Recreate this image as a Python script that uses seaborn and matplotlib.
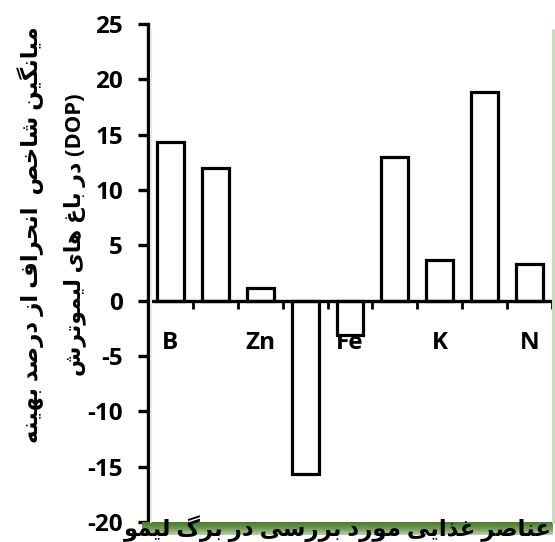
import re
import numpy as np
import pandas as pd
import matplotlib
matplotlib.use("Agg")
import matplotlib.pyplot as plt
import seaborn as sns

# data (DOP index per nutrient)
tick_labels = ['B', '', 'Zn', '', 'Fe', '', 'K', '', 'N']
dop_values = [14.3, 12.0, 1.1, -15.7, -3.1, 13.0, 3.7, 18.9, 3.3]
y_ticks = [-20, -15, -10, -5, 0, 5, 10, 15, 20, 25]

ylabel_line1 = 'میانگین شاخص  انحراف از درصد بهینه'
ylabel_line2 = '(DOP) در باغ های لیموترش'
xlabel_text = 'عناصر غذایی مورد بررسی در برگ لیمو'

# minimal arabic-script shaping, matplotlib has no shaping/bidi of its own
FORMS = {
    'ا': (0xFE8D, 0xFE8E),
    'ب': (0xFE8F, 0xFE90, 0xFE91, 0xFE92),
    'ت': (0xFE95, 0xFE96, 0xFE97, 0xFE98),
    'ح': (0xFEA1, 0xFEA2, 0xFEA3, 0xFEA4),
    'خ': (0xFEA5, 0xFEA6, 0xFEA7, 0xFEA8),
    'د': (0xFEA9, 0xFEAA),
    'ذ': (0xFEAB, 0xFEAC),
    'ر': (0xFEAD, 0xFEAE),
    'ز': (0xFEAF, 0xFEB0),
    'س': (0xFEB1, 0xFEB2, 0xFEB3, 0xFEB4),
    'ش': (0xFEB5, 0xFEB6, 0xFEB7, 0xFEB8),
    'ص': (0xFEB9, 0xFEBA, 0xFEBB, 0xFEBC),
    'ع': (0xFEC9, 0xFECA, 0xFECB, 0xFECC),
    'غ': (0xFECD, 0xFECE, 0xFECF, 0xFED0),
    'ف': (0xFED1, 0xFED2, 0xFED3, 0xFED4),
    'ل': (0xFEDD, 0xFEDE, 0xFEDF, 0xFEE0),
    'م': (0xFEE1, 0xFEE2, 0xFEE3, 0xFEE4),
    'ن': (0xFEE5, 0xFEE6, 0xFEE7, 0xFEE8),
    'ه': (0xFEE9, 0xFEEA, 0xFEEB, 0xFEEC),
    'و': (0xFEED, 0xFEEE),
    '\u06cc': (0xFBFC, 0xFBFD, 0xFBFE, 0xFBFF),
    'گ': (0xFB92, 0xFB93, 0xFB94, 0xFB95),
}


def shape(text):
    text = text.replace('\u064a', '\u06cc')
    out = []
    for i, ch in enumerate(text):
        f = FORMS.get(ch)
        if f is None:
            out.append(ch)
            continue
        prev = text[i - 1] if i > 0 else ''
        nxt = text[i + 1] if i + 1 < len(text) else ''
        join_prev = prev in FORMS and len(FORMS[prev]) == 4
        join_next = len(f) == 4 and nxt in FORMS
        if join_prev and join_next:
            idx = 3
        elif join_prev:
            idx = 1
        elif join_next:
            idx = 2
        else:
            idx = 0
        out.append(chr(f[idx]))
    return ''.join(out)


def rtl(text):
    shaped = shape(text)
    runs = re.findall(r'[A-Za-z0-9]+|[^A-Za-z0-9]+', shaped)
    mirror = {'(': ')', ')': '('}
    vis = []
    for r in reversed(runs):
        if r[0].isascii() and r[0].isalnum():
            vis.append(r)
        else:
            vis.append(''.join(mirror.get(c, c) for c in reversed(r)))
    return ''.join(vis)


sns.set_style('white')
plt.rcParams['font.family'] = ['Open Sans', 'DejaVu Sans']
plt.rcParams['font.weight'] = 'bold'
plt.rcParams['axes.unicode_minus'] = False
plt.rcParams['text.color'] = 'black'
plt.rcParams['xtick.color'] = 'black'
plt.rcParams['ytick.color'] = 'black'
plt.rcParams['axes.edgecolor'] = 'black'

df = pd.DataFrame({'pos': range(len(dop_values)), 'value': dop_values})

fig = plt.figure(figsize=(5.55, 5.42), dpi=100)
ax = fig.add_axes([148 / 555, 20 / 542, 404 / 555, 498 / 542])

sns.barplot(data=df, x='pos', y='value', color='white', saturation=1,
            edgecolor='black', linewidth=2.3, width=0.6, ax=ax, zorder=2)

ax.set_xlim(-0.5, len(dop_values) - 0.5)
ax.set_ylim(-20, 25)
ax.set_yticks(y_ticks)
ax.set_yticklabels([str(v) for v in y_ticks])
ax.set_xticks(range(len(tick_labels)))
ax.set_xticklabels(tick_labels)
ax.set_xticks(np.arange(-0.5, len(dop_values), 1.0), minor=True)
ax.set_xlabel('')
ax.set_ylabel('')

ax.spines['top'].set_visible(False)
ax.spines['right'].set_visible(False)
ax.spines['left'].set_linewidth(2.4)
ax.spines['bottom'].set_position(('data', 0))
ax.spines['bottom'].set_linewidth(2.4)
ax.spines['bottom'].set_zorder(3)

ax.tick_params(axis='y', direction='out', length=7, width=2.4, pad=11, left=True,
               labelsize=17.5, colors='black')
ax.tick_params(axis='x', which='major', length=0, pad=22, labelsize=17.5, colors='black')
ax.tick_params(axis='x', which='minor', direction='out', length=6, width=2, bottom=True, colors='black')
for t in ax.get_xticklabels() + ax.get_yticklabels():
    t.set_fontweight('bold')

# faint green shadow lines of the plot frame
fig.add_artist(plt.Line2D([552.5 / 555, 552.5 / 555], [20 / 542, 512 / 542],
                          color='#c9dabf', lw=2.2))
fig.add_artist(plt.Line2D([151 / 555, 151 / 555], [20 / 542, 512 / 542],
                          color='#e3ede0', lw=1.5))

# green band under the plot area
band = fig.add_axes([142 / 555, 7 / 542, 411 / 555, 13 / 542])
grad = np.linspace(0, 1, 30).reshape(-1, 1)
band.imshow(grad, aspect='auto', cmap=sns.blend_palette(['#4a7a2e', '#6f9a55', '#b8d0a8'], as_cmap=True))
band.axis('off')

fig.text(552 / 555, 0.5 / 542, rtl(xlabel_text), ha='right', va='bottom',
         fontsize=16.5, fontweight='bold', color='black')
fig.text(31 / 555, 1 - 235 / 542, rtl(ylabel_line1), rotation=90, ha='center', va='center',
         fontsize=16.5, fontweight='bold', color='black')
fig.text(75 / 555, 1 - 235 / 542, rtl(ylabel_line2), rotation=90, ha='center', va='center',
         fontsize=15.8, fontweight='bold', color='black')

fig.savefig('out.png', dpi=100)
